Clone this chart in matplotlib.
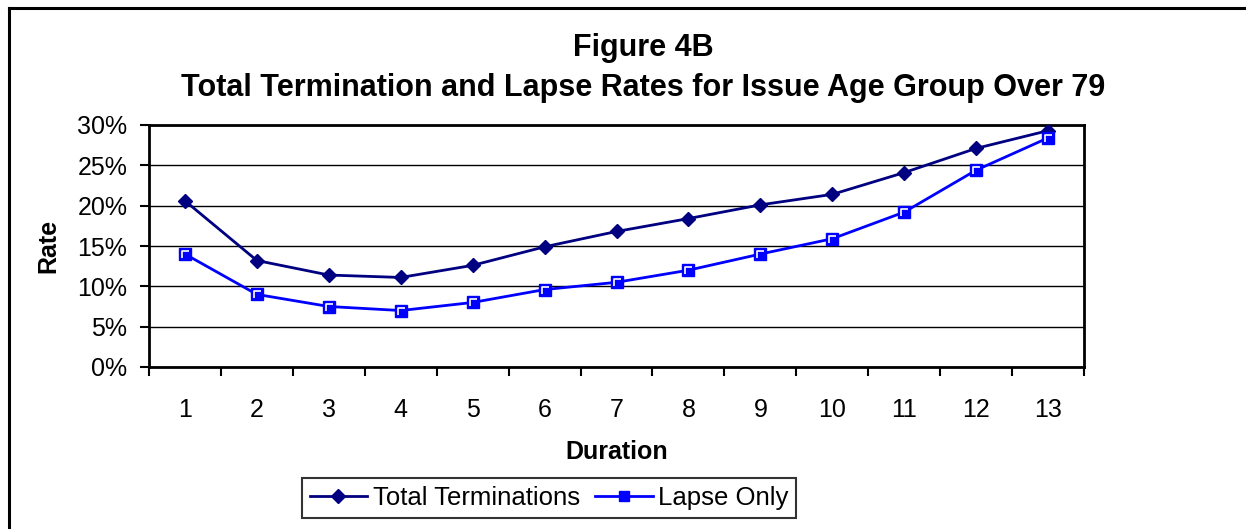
import matplotlib
matplotlib.use("Agg")
import matplotlib.pyplot as plt
from matplotlib.lines import Line2D
from matplotlib.ticker import FixedLocator, PercentFormatter

plt.rcParams['font.family'] = ['Liberation Sans', 'DejaVu Sans']

durations = [1, 2, 3, 4, 5, 6, 7, 8, 9, 10, 11, 12, 13]
total_terminations = [20.6, 13.2, 11.4, 11.1, 12.6, 14.9, 16.8, 18.4, 20.1, 21.4, 24.1, 27.1, 29.3]
lapse_only = [14.0, 9.0, 7.5, 7.0, 8.0, 9.6, 10.5, 12.0, 14.0, 15.9, 19.2, 24.4, 28.4]
y_ticks = [0, 5, 10, 15, 20, 25, 30]

W, H = 1246, 529
fig = plt.figure(figsize=(W / 100, H / 100), dpi=100)
ax = fig.add_axes([149 / W, 1 - 367 / H, (1084 - 149) / W, (367 - 125) / H])

navy = '#000080'
blue = '#0000FF'
fs = 18

ax.plot(durations, total_terminations, color=navy, lw=2, marker='D', ms=7.5,
        mfc=navy, mec=navy, label='Total Terminations', zorder=4)
ax.plot(durations, lapse_only, color=blue, lw=2, marker='s', ms=8.5,
        mfc=blue, mec=blue, label='Lapse Only', zorder=5)
# white inset highlight on square markers
ax.plot(durations, lapse_only, ls='none', marker=[(-0.5, -0.7), (-0.5, 0.5), (0.7, 0.5)],
        ms=5.5, mfc='none', mec='white', mew=1.2, zorder=6)

ax.set_xlim(0.5, 13.5)
ax.set_ylim(0, 30)
ax.yaxis.set_major_locator(FixedLocator(y_ticks))
ax.yaxis.set_major_formatter(PercentFormatter(decimals=0))
ax.grid(axis='y', color='black', lw=1.0)
ax.set_axisbelow(True)

ax.set_xticks([d - 0.5 for d in durations] + [13.5])
ax.set_xticklabels([])
ax.set_xticks(durations, minor=True)
ax.set_xticklabels([str(d) for d in durations], minor=True)
ax.tick_params(axis='x', which='major', direction='out', length=6.5, width=1.5)
ax.tick_params(axis='x', which='minor', length=0, pad=22, labelsize=fs)
ax.tick_params(axis='y', direction='out', length=6.5, width=1.5, pad=9, labelsize=fs)

for s in ax.spines.values():
    s.set_linewidth(2)
    s.set_color('black')

ax.set_ylabel('Rate', fontsize=fs, fontweight='bold')
ax.yaxis.set_label_coords((48 - 149) / (1084 - 149), 0.5)
ax.set_xlabel('Duration', fontsize=fs, fontweight='bold')
ax.xaxis.set_label_coords(0.5, -(452 - 367) / (367 - 125))
ax.xaxis.label.set_va('center')
ax.yaxis.label.set_va('center')

fig.text(643 / W, 1 - 56 / H, 'Figure 4B', ha='center', va='baseline',
         fontsize=22, fontweight='bold')
fig.text(643 / W, 1 - 95.5 / H, 'Total Termination and Lapse Rates for Issue Age Group Over 79',
         ha='center', va='baseline', fontsize=22, fontweight='bold')

leg = fig.legend(loc='center', bbox_to_anchor=(549 / W, 1 - 498 / H), ncol=2,
                 fontsize=18.5, frameon=True, fancybox=False, handlelength=2.25,
                 handletextpad=0.2, columnspacing=0.6, borderpad=0.3,
                 borderaxespad=0, markerscale=0.9)
leg.get_frame().set_edgecolor('black')
leg.get_frame().set_linewidth(1.5)

# outer chart border (left and top edges visible)
fig.add_artist(Line2D([9 / W, 9 / W], [0, 1 - 8 / H], transform=fig.transFigure,
                      color='black', lw=2.2))
fig.add_artist(Line2D([9 / W, 1], [1 - 8 / H, 1 - 8 / H], transform=fig.transFigure,
                      color='black', lw=2.2))

fig.savefig('out.png', dpi=100)
